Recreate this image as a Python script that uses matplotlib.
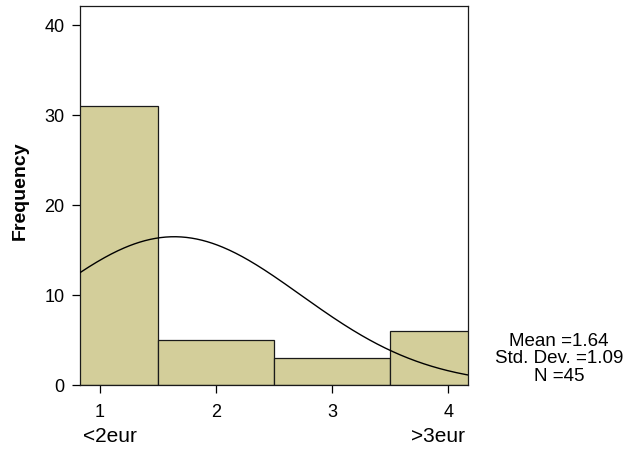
import numpy as np
import matplotlib.pyplot as plt

plt.rcParams['font.family'] = ['Liberation Sans', 'DejaVu Sans']

# histogram data
categories = [1, 2, 3, 4]
frequencies = [31, 5, 3, 6]
mean_val = 1.64
std_val = 1.09
n_val = 45
tick_labels = ["1", "2", "3", "4"]

fig = plt.figure(figsize=(6.29, 4.52), dpi=100)
ax = fig.add_axes([80 / 629, 1 - 386 / 452, 388 / 629, 379 / 452])

ax.bar(categories, frequencies, width=1.0, color="#D3CE9A",
       edgecolor="#1a1a1a", linewidth=0.9, zorder=2)

# normal curve from the stats shown on the chart (bin width 1)
xmin, xmax = 0.828, 4.17
xs = np.linspace(xmin, xmax, 300)
ys = n_val * 1.0 / (std_val * np.sqrt(2 * np.pi)) * np.exp(-0.5 * ((xs - mean_val) / std_val) ** 2)
ax.plot(xs, ys, color="black", linewidth=1.0, zorder=3)

ax.set_xlim(xmin, xmax)
ax.set_ylim(0, 42.1)
ax.set_xticks(categories)
ax.set_xticklabels(tick_labels)
ax.set_yticks([0, 10, 20, 30, 40])
ax.tick_params(axis="both", direction="out", length=6, width=0.9,
               labelsize=13, colors="black")
ax.tick_params(axis="x", pad=7)
ax.tick_params(axis="y", pad=5)
for s in ax.spines.values():
    s.set_linewidth(0.9)
    s.set_color("#1a1a1a")

fig.text(20.5 / 629, 1 - 191 / 452, "Frequency", rotation=90, ha="center", va="center",
         fontsize=14, fontweight="bold")

fig.text(110 / 629, 1 - 437 / 452, "<2eur", ha="center", va="center", fontsize=15)
fig.text(438 / 629, 1 - 437 / 452, ">3eur", ha="center", va="center", fontsize=15)
fig.text(559 / 629, 1 - 359 / 452,
         "Mean =%.2f\nStd. Dev. =%.2f\nN =%d" % (mean_val, std_val, n_val),
         ha="center", va="center", fontsize=13.5, linespacing=1.05)

fig.savefig("out.png", dpi=100)
